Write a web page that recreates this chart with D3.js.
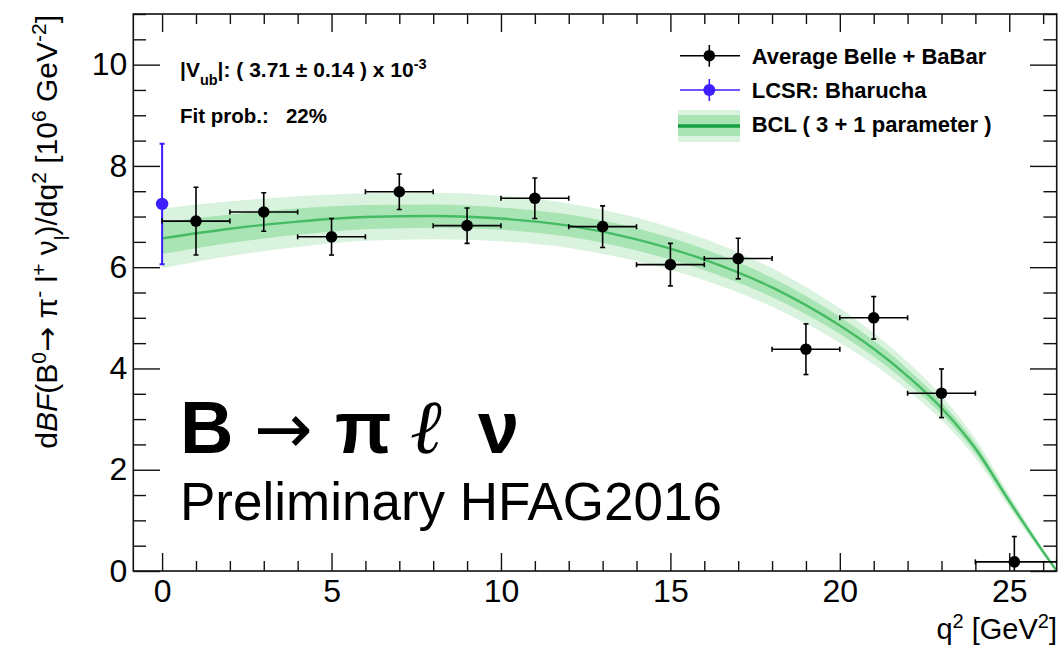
<!DOCTYPE html>
<html>
<head>
<meta charset="utf-8">
<script src="https://cdn.jsdelivr.net/npm/d3@7"></script>
<style>
  html, body { margin: 0; padding: 0; background: #fff; }
  svg { display: block; }
</style>
</head>
<body>
<svg id="chart" width="1059" height="645" font-family='"Liberation Sans", Arial, Helvetica, sans-serif'></svg>
<script>
// Averaged Belle + BaBar measurement, q^2 bins [GeV^2]
const binLow    = [0, 2, 4, 6, 8, 10, 12, 14, 16, 18, 20, 22, 24];
const binHigh   = [2, 4, 6, 8, 10, 12, 14, 16, 18, 20, 22, 24, 26.4];
const binCenter = [1, 3, 5, 7, 9, 11, 13, 15, 17, 19, 21, 23, 25.15];
const avgBF     = [6.91, 7.09, 6.60, 7.49, 6.82, 7.36, 6.80, 6.05, 6.17, 4.38, 5.00, 3.51, 0.18];
const avgErr    = [0.67, 0.38, 0.36, 0.35, 0.35, 0.40, 0.41, 0.42, 0.40, 0.50, 0.42, 0.48, 0.50];

// LCSR prediction at q^2 = 0
const lcsrQ2  = [0];
const lcsrBF  = [7.25];
const lcsrErr = [1.19];

// BCL (3 + 1 parameter) fit: central curve and 1 sigma / 2 sigma half widths
const fitQ2      = [0, 2, 4, 6, 8, 10, 12, 14, 16, 18, 19, 20, 21, 22, 23, 24, 25, 26, 26.4];
const fitCentral = [6.57, 6.76, 6.90, 6.99, 7.01, 6.96, 6.82, 6.55, 6.15, 5.60, 5.25, 4.85, 4.39, 3.85, 3.22, 2.42, 1.38, 0.38, 0.0];
const fitSigma1  = [0.31, 0.28, 0.26, 0.24, 0.23, 0.22, 0.22, 0.22, 0.21, 0.19, 0.18, 0.17, 0.16, 0.14, 0.12, 0.10, 0.07, 0.03, 0.0];
const fitSigma2  = [0.59, 0.54, 0.50, 0.47, 0.46, 0.45, 0.44, 0.43, 0.41, 0.38, 0.36, 0.34, 0.31, 0.28, 0.24, 0.19, 0.13, 0.06, 0.0];

// Axis ticks
const xMajor = [0, 5, 10, 15, 20, 25];
const xMinor = d3.range(0, 27, 1).filter(v => v % 5 !== 0);
const yMajor = [0, 2, 4, 6, 8, 10];
const yMinor = d3.range(0.5, 11.01, 0.5).filter(v => v % 2 !== 0);

const FONT = '"Liberation Sans", Arial, Helvetica, sans-serif';
const SYMBOL_FONT = '"DejaVu Sans", sans-serif';
const svg = d3.select("#chart");

const frameL = 133.3, frameR = 1056.7, frameT = 14, frameB = 571;
const x = d3.scaleLinear().domain([-0.85, 26.4]).range([frameL, frameR]);
const y = d3.scaleLinear().domain([0, 11]).range([frameB, frameT]);

svg.append("defs").append("clipPath").attr("id", "frameClip")
  .append("rect").attr("x", frameL).attr("y", frameT)
  .attr("width", frameR - frameL).attr("height", frameB - frameT);

// ---- fit band ----
const fit = fitQ2.map((q, i) => ({ q, c: fitCentral[i], s1: fitSigma1[i], s2: fitSigma2[i] }));
const bandG = svg.append("g").attr("clip-path", "url(#frameClip)");
const band = k => d3.area()
  .x(d => x(d.q))
  .y0(d => y(d.c - d[k]))
  .y1(d => y(d.c + d[k]))
  .curve(d3.curveMonotoneX);
bandG.append("path").datum(fit).attr("d", band("s2")).attr("fill", "#daf3de");
bandG.append("path").datum(fit).attr("d", band("s1")).attr("fill", "#a9e4b4");
bandG.append("path").datum(fit)
  .attr("d", d3.line().x(d => x(d.q)).y(d => y(d.c)).curve(d3.curveMonotoneX))
  .attr("fill", "none").attr("stroke", "#45bb64").attr("stroke-width", 2.4);

// ---- axes ----
function styleAxis(g, labels) {
  g.select(".domain").remove();
  g.selectAll("line").attr("stroke", "#111").attr("stroke-width", 1.4);
  g.attr("font-family", FONT).attr("font-size", 32);
  g.selectAll("text").attr("fill", "#000");
  if (!labels) g.selectAll("text").remove();
}
svg.append("g").attr("transform", `translate(0,${frameB})`)
  .call(d3.axisBottom(x).tickValues(xMajor).tickSize(-18).tickPadding(8).tickFormat(d3.format("d")))
  .call(g => styleAxis(g, true));
svg.append("g").attr("transform", `translate(0,${frameB})`)
  .call(d3.axisBottom(x).tickValues(xMinor).tickSize(-10).tickFormat(""))
  .call(g => styleAxis(g, false));
svg.append("g").attr("transform", `translate(0,${frameT})`)
  .call(d3.axisTop(x).tickValues(xMajor).tickSize(-18).tickFormat(""))
  .call(g => styleAxis(g, false));
svg.append("g").attr("transform", `translate(0,${frameT})`)
  .call(d3.axisTop(x).tickValues(xMinor).tickSize(-10).tickFormat(""))
  .call(g => styleAxis(g, false));
svg.append("g").attr("transform", `translate(${frameL},0)`)
  .call(d3.axisLeft(y).tickValues(yMajor).tickSize(-26.7).tickPadding(6).tickFormat(d3.format("d")))
  .call(g => styleAxis(g, true));
svg.append("g").attr("transform", `translate(${frameL},0)`)
  .call(d3.axisLeft(y).tickValues(yMinor).tickSize(-12.7).tickFormat(""))
  .call(g => styleAxis(g, false));
svg.append("g").attr("transform", `translate(${frameR},0)`)
  .call(d3.axisRight(y).tickValues(yMajor).tickSize(-26.7).tickFormat(""))
  .call(g => styleAxis(g, false));
svg.append("g").attr("transform", `translate(${frameR},0)`)
  .call(d3.axisRight(y).tickValues(yMinor).tickSize(-13.3).tickFormat(""))
  .call(g => styleAxis(g, false));

svg.append("rect").attr("x", frameL).attr("y", frameT)
  .attr("width", frameR - frameL).attr("height", frameB - frameT)
  .attr("fill", "none").attr("stroke", "#111").attr("stroke-width", 1.6);

// ---- data points ----
const pts = svg.append("g").attr("clip-path", "url(#frameClip)");
function errorPoint(g, cx, cy, xl, xh, yl, yh, color, r, sw) {
  const p = g.append("g").attr("stroke", color).attr("stroke-width", sw);
  if (xl !== null) {
    p.append("line").attr("x1", xl).attr("x2", xh).attr("y1", cy).attr("y2", cy);
    p.append("line").attr("x1", xl).attr("x2", xl).attr("y1", cy - 2.5).attr("y2", cy + 2.5);
    p.append("line").attr("x1", xh).attr("x2", xh).attr("y1", cy - 2.5).attr("y2", cy + 2.5);
  }
  p.append("line").attr("x1", cx).attr("x2", cx).attr("y1", yl).attr("y2", yh);
  p.append("line").attr("x1", cx - 2.5).attr("x2", cx + 2.5).attr("y1", yl).attr("y2", yl);
  p.append("line").attr("x1", cx - 2.5).attr("x2", cx + 2.5).attr("y1", yh).attr("y2", yh);
  g.append("circle").attr("cx", cx).attr("cy", cy).attr("r", r).attr("fill", color);
}
lcsrQ2.forEach((q, i) => {
  errorPoint(pts, x(q), y(lcsrBF[i]), null, null,
    y(lcsrBF[i] - lcsrErr[i]), y(lcsrBF[i] + lcsrErr[i]), "#3d1fff", 6.2, 2);
});
binCenter.forEach((q, i) => {
  errorPoint(pts, x(q), y(avgBF[i]), x(binLow[i]), x(binHigh[i]),
    y(avgBF[i] - avgErr[i]), y(avgBF[i] + avgErr[i]), "#000", 5.8, 1.6);
});

// ---- axis titles ----
const yt = svg.append("text")
  .attr("transform", "translate(57,15) rotate(-90)")
  .attr("text-anchor", "end").attr("font-size", 30).attr("fill", "#000");
const ytParts = [
  ["d"], ["BF", "italic"], ["(B"], ["0", "sup"], ["\u2192", "symbol"], [" \u03c0"], ["-", "sup"],
  [" l"], ["+", "sup"], [" \u03bd"], ["l", "sub"], [")/dq"], ["2", "sup"],
  [" [10"], ["6", "sup"], [" GeV"], ["-2", "sup"], ["]"]
];
ytParts.forEach(([t, kind]) => {
  const s = yt.append("tspan").text(t);
  if (kind === "italic") s.attr("font-style", "italic");
  if (kind === "symbol") s.attr("font-family", SYMBOL_FONT);
  if (kind === "sup") s.attr("baseline-shift", "super").attr("font-size", 21);
  if (kind === "sub") s.attr("baseline-shift", "sub").attr("font-size", 21);
});

const xt = svg.append("text").attr("x", 1057).attr("y", 639)
  .attr("text-anchor", "end").attr("font-size", 29).attr("fill", "#000");
[["q"], ["2", "sup"], [" [GeV"], ["2", "sup"], ["]"]].forEach(([t, kind]) => {
  const s = xt.append("tspan").text(t);
  if (kind === "sup") s.attr("baseline-shift", "super").attr("font-size", 20);
});

// ---- fit summary ----
const info = svg.append("g").attr("font-weight", "bold").attr("fill", "#000");
const vub = info.append("text").attr("x", 180).attr("y", 77).attr("font-size", 21);
vub.append("tspan").text("|V");
vub.append("tspan").text("ub").attr("baseline-shift", "sub").attr("font-size", 14.5);
vub.append("tspan").text("|: ( 3.71 \u00b1 0.14 ) x 10");
vub.append("tspan").text("-3").attr("baseline-shift", "super").attr("font-size", 14.5);
info.append("text").attr("x", 180).attr("y", 123).attr("font-size", 20.5)
  .style("white-space", "pre").text("Fit prob.:   22%");

// ---- legend ----
const lg = svg.append("g");
const lgX0 = 680, lgX1 = 740, lgMid = 709.3;
const lgText = (yy, t) => lg.append("text").attr("x", 751.7).attr("y", yy + 8)
  .attr("font-weight", "bold").attr("font-size", 22).attr("fill", "#000").text(t);
// measurement entry
lg.append("line").attr("x1", lgX0).attr("x2", lgX1).attr("y1", 55.7).attr("y2", 55.7).attr("stroke", "#000").attr("stroke-width", 1.6);
lg.append("line").attr("x1", lgMid).attr("x2", lgMid).attr("y1", 45).attr("y2", 66.7).attr("stroke", "#000").attr("stroke-width", 1.6);
lg.append("circle").attr("cx", lgMid).attr("cy", 55.7).attr("r", 5.8).attr("fill", "#000");
lgText(55.7, "Average Belle + BaBar");
// LCSR entry
lg.append("line").attr("x1", lgX0).attr("x2", lgX1).attr("y1", 90).attr("y2", 90).attr("stroke", "#3d1fff").attr("stroke-width", 1.6);
lg.append("line").attr("x1", lgMid).attr("x2", lgMid).attr("y1", 79).attr("y2", 101).attr("stroke", "#3d1fff").attr("stroke-width", 1.6);
lg.append("circle").attr("cx", lgMid).attr("cy", 90).attr("r", 6).attr("fill", "#3d1fff");
lgText(90, "LCSR: Bharucha");
// fit entry
lg.append("rect").attr("x", 678).attr("y", 110).attr("width", 62).attr("height", 32).attr("fill", "#daf3de");
lg.append("rect").attr("x", 678).attr("y", 115).attr("width", 62).attr("height", 21).attr("fill", "#a9e4b4");
lg.append("line").attr("x1", 678).attr("x2", 740).attr("y1", 126).attr("y2", 126).attr("stroke", "#16a043").attr("stroke-width", 3.5);
lgText(124, "BCL ( 3 + 1 parameter )");

// ---- process label ----
const big = svg.append("g").attr("fill", "#000");
big.append("text").attr("x", 180).attr("y", 453).attr("font-size", 74).attr("font-weight", "bold").text("B");
big.append("text").attr("x", 254).attr("y", 453).attr("font-size", 70)
  .attr("font-family", SYMBOL_FONT).text("\u2192");
big.append("text").attr("x", 335).attr("y", 453).attr("font-size", 74).attr("font-weight", "bold").text("\u03c0");
big.append("text").attr("x", 410).attr("y", 453).attr("font-size", 76).attr("font-style", "italic")
  .attr("font-family", '"DejaVu Serif", serif').text("\u2113");
big.append("text").attr("x", 478).attr("y", 453).attr("font-size", 74).attr("font-weight", "bold").text("\u03bd");
big.append("text").attr("x", 180).attr("y", 520).attr("font-size", 53).text("Preliminary HFAG2016");
</script>
</body>
</html>
